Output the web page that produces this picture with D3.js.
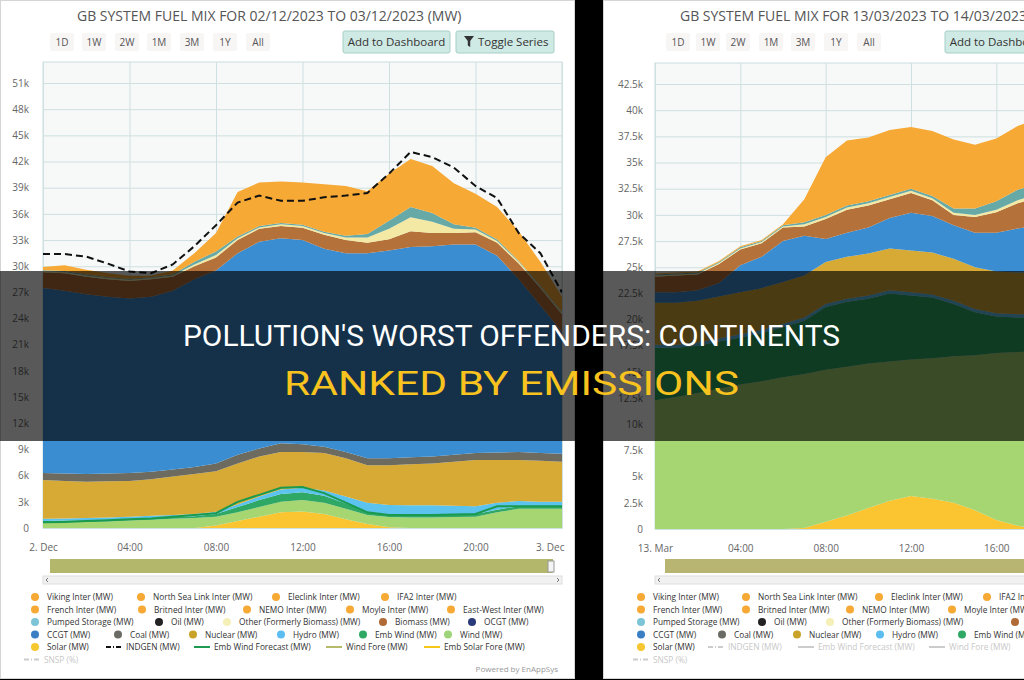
<!DOCTYPE html>
<html>
<head>
<meta charset="utf-8">
<script src="https://cdn.jsdelivr.net/npm/d3@7"></script>
<style>
  html, body { margin: 0; padding: 0; background: #000; overflow: hidden; }
  svg { display: block; font-family: "Open Sans", "DejaVu Sans", sans-serif; }
</style>
</head>
<body>
<script>
// ---- data: GB fuel mix, 02/12/2023 (MW, hourly) ----
const decHours = d3.range(0, 25);
const decSolar   = [0,0,0,0,0,0,0,0,300,800,1300,1800,1900,1600,1000,450,100,0,0,0,0,0,0,0,0];
const decWind    = [600,650,700,750,850,950,1050,1150,1000,1000,1100,1200,1300,1300,1200,1050,1150,1200,1200,1250,1300,1800,2200,2200,2200];
const decEmbWind = [200,200,200,200,200,200,200,200,300,600,800,900,900,800,600,400,300,300,300,300,300,300,300,300,300];
const decHydro   = [250,250,250,250,250,250,250,250,250,300,400,500,500,600,800,1000,1100,1100,1100,1000,900,800,600,500,500];
const decNuclear = [4450,4300,4150,4150,4100,4200,4400,4600,4650,4700,4600,4300,4100,4300,4400,4300,4550,4700,4800,5050,5300,4900,4700,4700,4600];
const decCoal    = [800,850,900,900,900,850,800,800,900,1000,900,1000,900,700,700,800,800,800,800,800,800,850,900,900,900];
const decCCGT    = [21200,20950,20600,20250,20000,20050,20500,21500,22100,23100,23700,23500,23400,22700,22800,23500,23800,24100,24100,24100,23900,22550,19800,16900,14000];
const decBiomass = [1800,2000,2000,2000,2000,2000,1600,1500,1500,1500,1500,1400,1400,1600,1500,1200,1300,1800,1500,1300,1400,1500,1800,2000,2000];
const decOther   = [150,150,150,150,150,150,150,200,300,200,150,200,200,200,300,600,1200,1600,1300,500,300,200,200,150,150];
const decPumped  = [100,100,100,100,100,100,100,300,400,200,150,150,150,150,200,400,900,1200,1000,500,200,150,100,100,100];
const decInter   = [350,650,550,450,350,150,450,1000,2100,5100,5000,4750,4850,5450,5700,4900,5400,5500,5400,4700,3900,3750,3400,2750,1750];
const decIndgen  = [31400,31400,31100,30300,29400,29200,30200,32300,34700,37300,38100,37500,37500,37900,38100,38400,40600,43100,42500,41300,39200,37800,33800,31500,27000];
const decEmbWindFcst = [650,700,800,900,1000,1100,1300,1500,1700,3000,3800,4600,4700,4000,2900,1800,1500,1500,1500,1550,1600,2500,2500,2500,2500];

// ---- data: GB fuel mix, 13/03/2023 (MW, hourly, visible part) ----
const marHours = d3.range(0, 19);
const marSolar   = [0,0,0,0,0,0,0,100,700,1300,2000,2700,3150,2900,2500,1800,850,300,0];
const marWind    = [12300,12600,13000,13400,13800,14100,14500,14700,14500,14200,13800,13300,13050,13400,14000,14800,15950,16600,17000];
const marEmbWind = [5000,4700,4500,4500,4500,4600,4800,5100,6000,6200,6200,6500,6100,5800,5000,4100,3500,3300,3200];
const marHydro   = [300,300,300,300,300,300,300,300,300,300,300,300,300,300,300,300,300,300,300];
const marNuclear = [4000,4000,4000,4000,4000,4000,4000,4000,4000,4000,4000,4000,4000,4000,4000,4000,4000,4000,4000];
const marCCGT    = [1000,1000,1000,1300,2600,3000,3900,3800,2200,2300,2500,2900,3600,3500,3200,3300,3700,4200,4500];
const marBiomass = [1500,1600,1500,1800,1500,1300,1300,900,1900,2200,2100,1800,1900,1500,1000,1500,1950,2400,2700];
const marOther   = [100,100,100,100,100,100,100,200,200,200,200,200,200,200,200,200,250,300,300];
const marPumped  = [100,100,100,100,100,100,100,200,200,200,200,200,200,200,400,600,800,1000,1000];
const marInter   = [100,100,100,100,100,100,100,2200,5500,6200,6100,6200,5900,6200,6600,6100,6000,6100,6200];

const rangeButtons = ['1D', '1W', '2W', '1M', '3M', '1Y', 'All'];
const legendRows = [
  ['Viking Inter (MW)', 'North Sea Link Inter (MW)', 'Eleclink Inter (MW)', 'IFA2 Inter (MW)'],
  ['French Inter (MW)', 'Britned Inter (MW)', 'NEMO Inter (MW)', 'Moyle Inter (MW)', 'East-West Inter (MW)'],
  ['Pumped Storage (MW)', 'Oil (MW)', 'Other (Formerly Biomass) (MW)', 'Biomass (MW)', 'OCGT (MW)'],
  ['CCGT (MW)', 'Coal (MW)', 'Nuclear (MW)', 'Hydro (MW)', 'Emb Wind (MW)', 'Wind (MW)'],
  ['Solar (MW)', 'INDGEN (MW)', 'Emb Wind Forecast (MW)', 'Wind Fore (MW)', 'Emb Solar Fore (MW)'],
  ['SNSP (%)']
];

// area colours, bottom of the stack first
const stackColors = {
  solar: '#fbc531', wind: '#a6d672', embWind: '#2fa865', hydro: '#5cc2ee',
  nuclear: '#d6aa35', coal: '#6d6b60', ccgt: '#3a8dd0', biomass: '#b5713a',
  other: '#f3e9a4', pumped: '#66a9a7', inter: '#f6a935'
};
const legendColors = {
  'Pumped Storage (MW)': '#7cc4d6', 'Oil (MW)': '#222', 'Other (Formerly Biomass) (MW)': '#f5efb8',
  'Biomass (MW)': '#b06a35', 'OCGT (MW)': '#2b3a7a', 'CCGT (MW)': '#3a7fc4', 'Coal (MW)': '#6b6b66',
  'Nuclear (MW)': '#c9a22a', 'Hydro (MW)': '#5bbdf0', 'Emb Wind (MW)': '#2ea862', 'Wind (MW)': '#9fd57a',
  'Solar (MW)': '#f7c730'
};
const legendLines = {
  'INDGEN (MW)': { color: '#111', dash: '5,2,1,2' },
  'Emb Wind Forecast (MW)': { color: '#1f9a52', dash: null },
  'Wind Fore (MW)': { color: '#b5bb6a', dash: null },
  'Emb Solar Fore (MW)': { color: '#f5c518', dash: null },
  'SNSP (%)': { color: '#ccc', dash: '5,2,1,2' }
};

const W = 1024, H = 680;
const svg = d3.select('body').append('svg').attr('width', W).attr('height', H);

function rowsFrom(hours, series) {
  return hours.map((h, i) => {
    let row = { h: h };
    Object.keys(series).forEach(k => { row[k] = series[k][i]; });
    return row;
  });
}

function drawPanel(cfg) {
  let g = svg.append('g');

  // card
  g.append('rect')
    .attr('x', cfg.cardX + 0.5).attr('y', 0.5)
    .attr('width', cfg.cardW).attr('height', H - 2)
    .attr('fill', '#fff').attr('stroke', '#d5d5d5');

  g.append('text')
    .attr('x', cfg.titleX).attr('y', 21)
    .attr('font-size', 14).attr('fill', '#555')
    .text(cfg.title);

  // range selector
  rangeButtons.forEach((b, i) => {
    let cx = cfg.rangeX[i];
    g.append('rect').attr('x', cx - 12).attr('y', 33).attr('width', 24).attr('height', 18)
      .attr('rx', 2).attr('fill', '#f8f5f5');
    g.append('text').attr('x', cx).attr('y', 46).attr('text-anchor', 'middle')
      .attr('font-size', 10).attr('fill', '#555').text(b);
  });

  // buttons
  let bx = cfg.dashX;
  g.append('rect').attr('x', bx).attr('y', 31).attr('width', 107).attr('height', 22).attr('rx', 2)
    .attr('fill', '#cfe9e4').attr('stroke', '#a6cfc6');
  g.append('text').attr('x', bx + 53.5).attr('y', 46).attr('text-anchor', 'middle')
    .attr('font-size', 11.5).attr('fill', '#333').text('Add to Dashboard');
  g.append('rect').attr('x', bx + 113).attr('y', 31).attr('width', 98).attr('height', 22).attr('rx', 2)
    .attr('fill', '#cfe9e4').attr('stroke', '#a6cfc6');
  g.append('path')
    .attr('d', `M${bx + 121},36 h10 l-3.8,5 v6 l-2.4,-1.5 v-4.5 z`)
    .attr('fill', '#333');
  g.append('text').attr('x', bx + 135).attr('y', 46)
    .attr('font-size', 11.5).attr('fill', '#333').text('Toggle Series');

  // scales
  let x = d3.scaleLinear().domain([0, 24]).range([cfg.plotL, cfg.plotR]);
  let y = d3.scaleLinear().domain([0, cfg.yRef]).range([cfg.plotB, cfg.yRefPx]);

  g.append('rect')
    .attr('x', cfg.plotL).attr('y', cfg.plotT)
    .attr('width', cfg.plotR - cfg.plotL).attr('height', cfg.plotB - cfg.plotT)
    .attr('fill', '#f7f8f8').attr('stroke', '#c9dede');

  let yAxis = d3.axisLeft(y)
    .tickValues(cfg.yTicks)
    .tickSize(-(cfg.plotR - cfg.plotL))
    .tickPadding(cfg.yPad)
    .tickFormat(v => v === 0 ? '0' : (v / 1000) + 'k');
  g.append('g').attr('transform', `translate(${cfg.plotL},0)`).call(yAxis)
    .call(a => {
      a.select('.domain').remove();
      a.selectAll('line').attr('stroke', '#cfe0e0');
      a.selectAll('text').attr('font-size', 10).attr('fill', '#666').attr('font-family', 'Open Sans, sans-serif');
    });

  let xAxis = d3.axisBottom(x)
    .tickValues(d3.range(0, 25, 4))
    .tickSize(-(cfg.plotB - cfg.plotT))
    .tickPadding(16)
    .tickFormat(h => h === 0 ? cfg.day0 : h === 24 ? cfg.day1 : d3.format('02')(h) + ':00');
  g.append('g').attr('transform', `translate(0,${cfg.plotB})`).call(xAxis)
    .call(a => {
      a.select('.domain').attr('stroke', '#cfe0e0');
      a.selectAll('line').attr('stroke', '#cfe0e0');
      a.selectAll('text').attr('font-size', 10).attr('fill', '#666').attr('font-family', 'Open Sans, sans-serif');
      // last label is pulled inside the plot, as the chart library does
      a.selectAll('.tick').filter(h => h === 24).select('text')
        .attr('text-anchor', 'end').attr('x', 2);
    });

  // stacked areas
  let clipId = 'clip-' + cfg.id;
  svg.append('clipPath').attr('id', clipId).append('rect')
    .attr('x', cfg.plotL).attr('y', cfg.plotT)
    .attr('width', cfg.plotR - cfg.plotL).attr('height', cfg.plotB - cfg.plotT);
  let plot = g.append('g').attr('clip-path', `url(#${clipId})`);

  let keys = Object.keys(cfg.series);
  let rows = rowsFrom(cfg.hours, cfg.series);
  let stacked = d3.stack().keys(keys)(rows);
  let area = d3.area()
    .x(d => x(d.data.h))
    .y0(d => y(d[0]))
    .y1(d => y(d[1]));
  plot.selectAll('.layer')
    .data(stacked)
    .join('path')
      .attr('class', 'layer')
      .attr('d', area)
      .attr('fill', d => stackColors[d.key]);

  (cfg.lines || []).forEach(ln => {
    plot.append('path')
      .datum(ln.values)
      .attr('d', d3.line().x((v, i) => x(cfg.hours[i])).y(v => y(v)))
      .attr('fill', 'none')
      .attr('stroke', ln.color)
      .attr('stroke-width', ln.width)
      .attr('stroke-dasharray', ln.dash);
  });

  // navigator and scrollbar
  g.append('rect').attr('x', cfg.navX).attr('y', 559).attr('width', cfg.navW).attr('height', 14)
    .attr('fill', cfg.navColor);
  g.append('rect').attr('x', cfg.plotL).attr('y', 576).attr('width', cfg.plotR - cfg.plotL).attr('height', 8)
    .attr('fill', '#f1f1f1').attr('stroke', '#dedede');
  g.append('path').attr('d', `M${cfg.plotL + 5},578 l-2,2 l2,2`).attr('stroke', '#777').attr('fill', 'none');
  if (cfg.navHandle) {
    g.append('rect').attr('x', cfg.navX + cfg.navW - 5).attr('y', 561).attr('width', 6).attr('height', 11)
      .attr('fill', '#f4f4f4').attr('stroke', '#999');
    g.append('path').attr('d', `M${cfg.plotR - 5},578 l2,2 l-2,2`).attr('stroke', '#777').attr('fill', 'none');
  }

  // legend
  let rowY = [597, 609.5, 622, 634.5, 647, 659.5];
  legendRows.forEach((names, r) => {
    names.forEach((name, c) => {
      let cx = cfg.legendX[r][c];
      let hidden = cfg.hidden.indexOf(name) >= 0;
      let ly = rowY[r];
      if (legendLines[name]) {
        let st = legendLines[name];
        g.append('line').attr('x1', cx - 8).attr('x2', cx + 8).attr('y1', ly).attr('y2', ly)
          .attr('stroke', hidden ? '#ccc' : st.color).attr('stroke-width', 2)
          .attr('stroke-dasharray', st.dash);
      } else {
        let col = name.indexOf('Inter') >= 0 ? '#f6a935' : legendColors[name];
        g.append('circle').attr('cx', cx).attr('cy', ly).attr('r', 4).attr('fill', hidden ? '#ccc' : col);
      }
      g.append('text').attr('x', cx + 12).attr('y', ly + 3)
        .attr('font-size', 8.3).attr('fill', hidden ? '#c8c8c8' : '#333').text(name);
    });
  });

  if (cfg.powered) {
    g.append('text').attr('x', cfg.cardX + cfg.cardW - 16).attr('y', 672).attr('text-anchor', 'end')
      .attr('font-size', 8).attr('fill', '#999').text('Powered by EnAppSys');
  }
}

drawPanel({
  id: 'dec', cardX: 0, cardW: 574,
  title: 'GB SYSTEM FUEL MIX FOR 02/12/2023 TO 03/12/2023 (MW)', titleX: 77,
  rangeX: [62, 94, 127, 159, 192, 225, 258], dashX: 343,
  plotL: 43, plotR: 562, plotT: 62, plotB: 528, yRef: 51000, yRefPx: 83,
  yTicks: d3.range(0, 51001, 3000), yPad: 14,
  day0: '2. Dec', day1: '3. Dec',
  hours: decHours,
  series: {
    solar: decSolar, wind: decWind, embWind: decEmbWind, hydro: decHydro, nuclear: decNuclear,
    coal: decCoal, ccgt: decCCGT, biomass: decBiomass, other: decOther, pumped: decPumped, inter: decInter
  },
  lines: [
    { values: decEmbWindFcst, color: '#1a9a4e', width: 2, dash: null },
    { values: decIndgen, color: '#111', width: 2, dash: '7,4' }
  ],
  navX: 50, navW: 503, navColor: '#b2b76c', navHandle: true,
  legendX: [
    [35, 141, 276, 385],
    [35, 142, 247, 350, 451],
    [35, 159, 227, 383, 472],
    [35, 118, 193, 281, 363, 448],
    [35, 114, 202, 334, 432],
    [32]
  ],
  hidden: ['SNSP (%)'],
  powered: true
});

drawPanel({
  id: 'mar', cardX: 603, cardW: 560,
  title: 'GB SYSTEM FUEL MIX FOR 13/03/2023 TO 14/03/2023 (MW)', titleX: 680,
  rangeX: [678, 708, 738, 771, 803, 836, 869], dashX: 945,
  plotL: 655, plotR: 1167, plotT: 63, plotB: 529, yRef: 42500, yRefPx: 84,
  yTicks: d3.range(0, 42501, 2500), yPad: 12,
  day0: '13. Mar', day1: '14. Mar',
  hours: marHours,
  series: {
    solar: marSolar, wind: marWind, embWind: marEmbWind, hydro: marHydro, nuclear: marNuclear,
    ccgt: marCCGT, biomass: marBiomass, other: marOther, pumped: marPumped, inter: marInter
  },
  lines: [],
  navX: 665, navW: 500, navColor: '#b8b472', navHandle: false,
  legendX: [
    [641, 746, 879, 987],
    [641, 746, 850, 952, 1060],
    [641, 762, 830, 1015, 1110],
    [641, 722, 797, 880, 962, 1045],
    [641, 716, 806, 937, 1040],
    [641]
  ],
  hidden: ['INDGEN (MW)', 'Emb Wind Forecast (MW)', 'Wind Fore (MW)', 'Emb Solar Fore (MW)', 'SNSP (%)'],
  powered: false
});

// headline banner over both screenshots
svg.append('rect')
  .attr('x', 0).attr('y', 271).attr('width', W).attr('height', 170)
  .attr('fill', '#000').attr('opacity', 0.65);

svg.append('text')
  .attr('x', 183).attr('y', 346)
  .attr('textLength', 657).attr('lengthAdjust', 'spacingAndGlyphs')
  .attr('font-family', 'Roboto, "Liberation Sans", sans-serif')
  .attr('font-size', 29).attr('fill', '#fff')
  .text("POLLUTION'S WORST OFFENDERS: CONTINENTS");

svg.append('text')
  .attr('x', 284).attr('y', 395)
  .attr('textLength', 455).attr('lengthAdjust', 'spacingAndGlyphs')
  .attr('font-family', 'Roboto, "Liberation Sans", sans-serif')
  .attr('font-size', 34).attr('fill', '#f8c31f')
  .text('RANKED BY EMISSIONS');
</script>
</body>
</html>
